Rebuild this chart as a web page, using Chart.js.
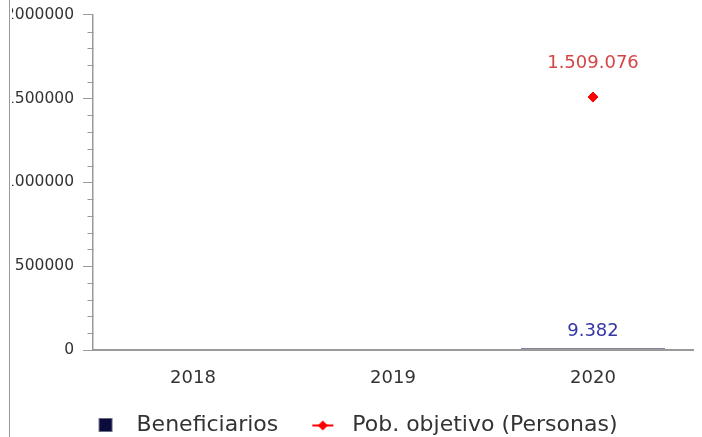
<!DOCTYPE html>
<html>
<head>
<meta charset="utf-8">
<script src="https://cdn.jsdelivr.net/npm/chart.js@4.4.1/dist/chart.umd.min.js"></script>
<style>
  html, body { margin: 0; padding: 0; background: #fff; }
  #wrap { position: relative; width: 702px; height: 437px; }
  /* the reference is cut off on the left, with a thin frame line */
  #crop {
    position: absolute; left: 0; top: 0; width: 12px; height: 437px;
    background: linear-gradient(to right, #fff 0 9px, #9a9a9a 9px 10px, #fff 10px 12px);
  }
</style>
</head>
<body>
<div id="wrap">
  <canvas id="chart" width="702" height="437"></canvas>
  <div id="crop"></div>
</div>
<script>
const years = ['2018', '2019', '2020'];
const beneficiarios = [null, null, 9382];
const poblacionObjetivo = [null, null, 1509076];
const yTicks = [0, 500000, 1000000, 1500000, 2000000];
const minorStep = 100000;

const FONT = '"DejaVu Sans", Verdana, sans-serif';

// 1509076 -> "1.509.076"
function fmt(v) {
    return String(v).replace(/\B(?=(\d{3})+(?!\d))/g, '.');
}

function legendIcon(draw) {
    const c = document.createElement('canvas');
    c.width = 62;
    c.height = 16;
    draw(c.getContext('2d'));
    return c;
}

const squareIcon = legendIcon((g) => {
    g.fillStyle = '#0b0b3d';
    g.fillRect(35, 1, 14, 14);
    g.strokeStyle = '#6b6b80';
    g.lineWidth = 1;
    g.strokeRect(35.5, 1.5, 13, 13);
});

const lineIcon = legendIcon((g) => {
    g.strokeStyle = '#ff0000';
    g.lineWidth = 2;
    g.beginPath();
    g.moveTo(33, 8.5);
    g.lineTo(54, 8.5);
    g.stroke();
    g.fillStyle = '#ff0000';
    g.beginPath();
    g.moveTo(43.5, 3.5);
    g.lineTo(48.5, 8.5);
    g.lineTo(43.5, 13.5);
    g.lineTo(38.5, 8.5);
    g.closePath();
    g.fill();
});

// value labels above the marks
const valueLabels = {
    id: 'valueLabels',
    afterDatasetsDraw(chart) {
        const ctx = chart.ctx;
        chart.data.datasets.forEach((ds, i) => {
            const meta = chart.getDatasetMeta(i);
            meta.data.forEach((el, j) => {
                const v = ds.data[j];
                if (v == null) return;
                ctx.save();
                ctx.font = '18px ' + FONT;
                ctx.fillStyle = ds.labelColor;
                ctx.textAlign = 'center';
                ctx.textBaseline = 'middle';
                ctx.fillText(fmt(v), el.x, el.y - ds.labelOffset);
                ctx.restore();
            });
        });
    }
};

// short minor tick marks on the y axis
const minorTicks = {
    id: 'minorTicks',
    afterDraw(chart) {
        const y = chart.scales.y;
        const ctx = chart.ctx;
        const x0 = Math.round(y.right) + 0.5;
        ctx.save();
        ctx.strokeStyle = '#9a9a9a';
        ctx.lineWidth = 1;
        for (let v = minorStep; v < y.max; v += minorStep) {
            if (yTicks.includes(v)) continue;
            const py = Math.round(y.getPixelForValue(v)) + 0.5;
            ctx.beginPath();
            ctx.moveTo(x0 - 6, py);
            ctx.lineTo(x0, py);
            ctx.stroke();
        }
        ctx.restore();
    }
};

new Chart(document.getElementById('chart'), {
    data: {
        labels: years,
        datasets: [
            {
                type: 'bar',
                label: 'Beneficiarios',
                data: beneficiarios,
                backgroundColor: '#0b0b3d',
                inflateAmount: 0,
                labelColor: '#3535a5',
                labelOffset: 17,
                legendIcon: squareIcon,
                order: 2
            },
            {
                type: 'line',
                label: 'Pob. objetivo (Personas)',
                data: poblacionObjetivo,
                borderColor: '#ff0000',
                backgroundColor: '#ff0000',
                borderWidth: 2,
                pointStyle: 'rectRot',
                pointRadius: 5,
                pointBorderWidth: 1,
                showLine: false,
                labelColor: '#d54545',
                labelOffset: 34,
                legendIcon: lineIcon,
                order: 1
            }
        ]
    },
    options: {
        responsive: false,
        animation: false,
        devicePixelRatio: 1,
        layout: { padding: { left: -12, right: 9, top: 8, bottom: -9 } },
        plugins: {
            tooltip: { enabled: false },
            legend: {
                position: 'bottom',
                labels: {
                    usePointStyle: true,
                    pointStyleWidth: 62,
                    padding: 1,
                    color: '#333',
                    font: { family: FONT, size: 22 },
                    generateLabels: (chart) => chart.data.datasets.map((ds, i) => ({
                        text: ds.label,
                        pointStyle: ds.legendIcon,
                        fontColor: '#333',
                        datasetIndex: i,
                        hidden: false,
                        lineWidth: 0
                    }))
                }
            }
        },
        scales: {
            x: {
                grid: { display: false },
                border: { color: '#9a9a9a', width: 2, z: 1 },
                ticks: { color: '#333', padding: 10, font: { family: FONT, size: 18 } },
                afterFit: (scale) => { scale.height = 63; }
            },
            y: {
                min: 0,
                max: 2000000,
                afterBuildTicks: (scale) => { scale.ticks = yTicks.map((v) => ({ value: v })); },
                grid: { drawOnChartArea: false, tickLength: 10, tickColor: '#9a9a9a' },
                border: { color: '#9a9a9a', width: 1.5 },
                ticks: {
                    color: '#333',
                    padding: 9,
                    font: { family: FONT, size: 15.5, lineHeight: 0.75 },
                    callback: (v) => String(v)
                },
                afterFit: (scale) => { scale.width = 105; }
            }
        }
    },
    plugins: [valueLabels, minorTicks]
});
</script>
</body>
</html>
